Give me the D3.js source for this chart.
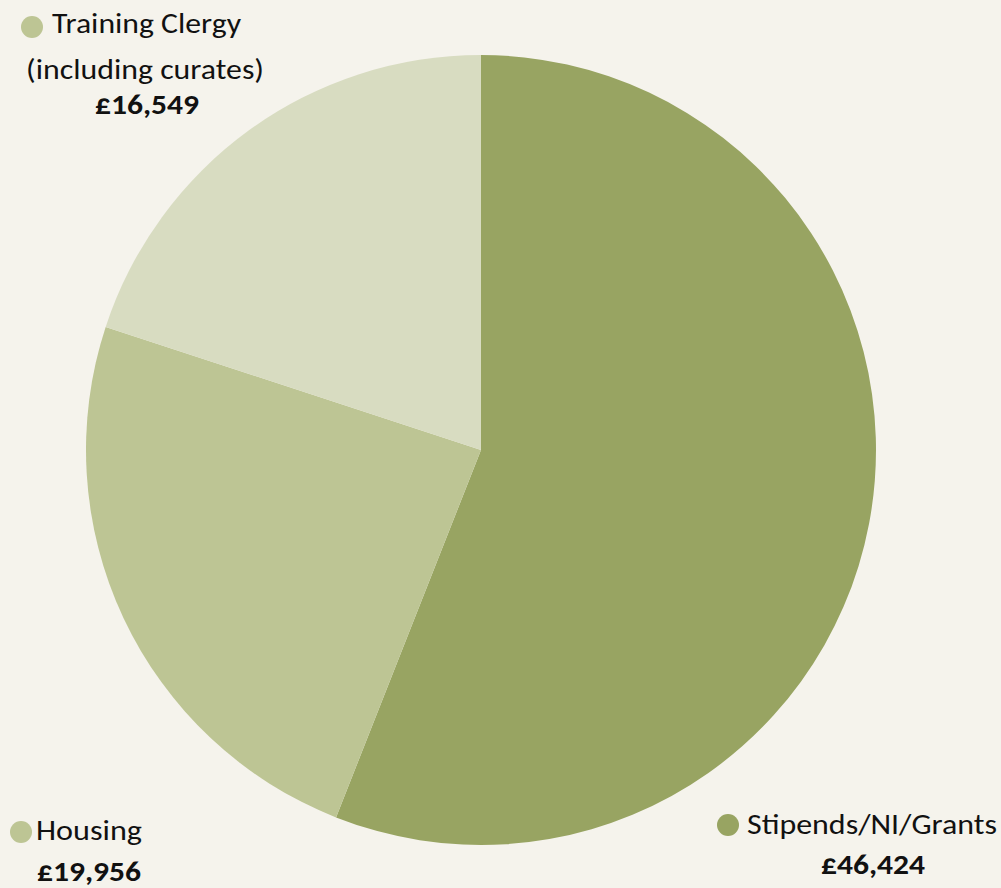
<!DOCTYPE html>
<html>
<head>
<meta charset="utf-8">
<script src="https://cdn.jsdelivr.net/npm/d3@7"></script>
<style>
  html, body { margin: 0; padding: 0; background: #f5f3ec; }
  svg { display: block; }
</style>
</head>
<body>
<div class="chart"></div>
<script>
// data
const categories = ["Stipends/NI/Grants", "Housing", "Training Clergy (including curates)"];
const values = [46424, 19956, 16549];
const value_labels = ["£46,424", "£19,956", "£16,549"];
const colours = ["#98a462", "#bdc594", "#d8dcc1"];
const dot_colours = ["#98a462", "#bdc594", "#bdc594"];

const dims = { width: 1001, height: 888 };
const centre = { x: 481, y: 450 };
const radius = 395;
const font = "Carlito, Calibri, Lato, 'Liberation Sans', sans-serif";

var svg = d3.select(".chart")
            .append("svg")
            .attr("width", dims.width)
            .attr("height", dims.height);

svg.append("rect").attr("width", dims.width).attr("height", dims.height).attr("fill", "#f5f3ec");

var pie = d3.pie().sort(null).value(function(d){ return d; });
var arc = d3.arc().innerRadius(0).outerRadius(radius);

var colour = d3.scaleOrdinal().domain(categories).range(colours);

const pie_g = svg.append("g").attr("transform", `translate(${centre.x},${centre.y})`);
pie_g.selectAll(".slice").data(pie(values)).enter().append("path")
     .attr("class", "slice")
     .attr("d", arc)
     .attr("fill", function(d, i){ return colour(categories[i]); });

// label positions (hand placed, like the original)
const label_pos = [
  { dot: [728, 825], lines: [{ t: "Stipends/NI/Grants", x: 747, y: 834, anchor: "start", w: 250 }], val: [873, 874] },
  { dot: [21, 832], lines: [{ t: "Housing", x: 36, y: 840, anchor: "start", w: 106 }], val: [89, 881] },
  { dot: [32, 27], lines: [{ t: "Training Clergy", x: 52, y: 33, anchor: "start", w: 189 },
                           { t: "(including curates)", x: 145, y: 79, anchor: "middle", w: 238 }], val: [147, 114] }
];

label_pos.forEach(function(p, i){
  svg.append("circle").attr("cx", p.dot[0]).attr("cy", p.dot[1]).attr("r", 11)
     .attr("fill", dot_colours[i]);
  p.lines.forEach(function(l){
    svg.append("text")
       .attr("x", l.x).attr("y", l.y)
       .attr("text-anchor", l.anchor)
       .attr("font-family", font)
       .attr("font-size", 28)
       .attr("textLength", l.w)
       .attr("lengthAdjust", "spacingAndGlyphs")
       .style("fill", "#111")
       .text(l.t);
  });
  svg.append("text")
     .attr("x", p.val[0]).attr("y", p.val[1])
     .attr("text-anchor", "middle")
     .attr("font-family", font)
     .attr("font-size", 28)
     .attr("font-weight", "900")
     .attr("textLength", 104)
     .attr("lengthAdjust", "spacingAndGlyphs")
     .style("fill", "#111")
     .text(value_labels[i]);
});
</script>
</body>
</html>
